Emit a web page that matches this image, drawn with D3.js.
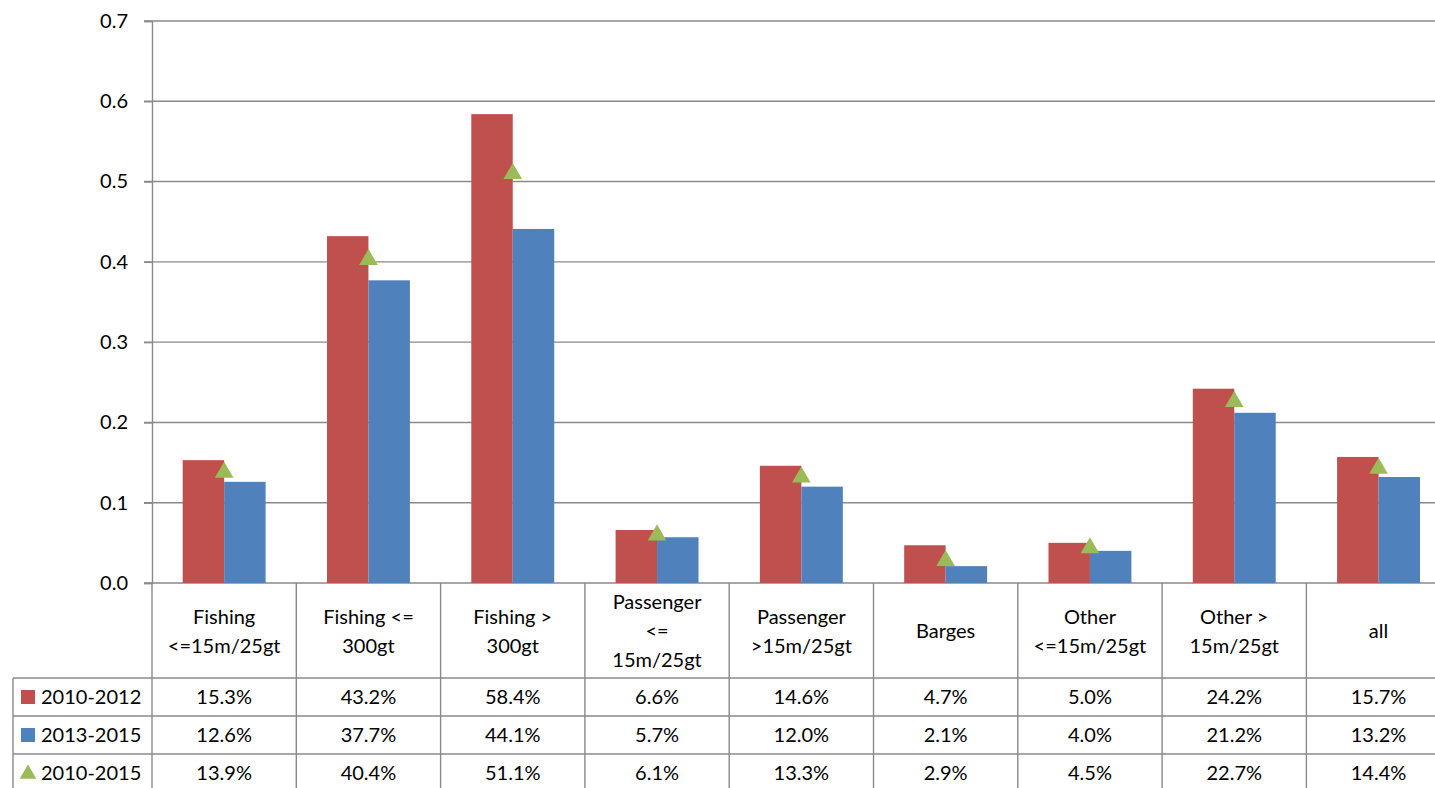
<!DOCTYPE html>
<html><head><meta charset="utf-8">
<script src="https://cdn.jsdelivr.net/npm/d3@7"></script>
<style>body{margin:0;background:#fff}svg{display:block}text{font-family:Lato,"Open Sans",sans-serif;fill:#000}</style>
</head><body>
<svg id="c" width="1435" height="788"></svg>
<script>
const categories = ["Fishing <=15m/25gt","Fishing <= 300gt","Fishing > 300gt","Passenger <= 15m/25gt","Passenger >15m/25gt","Barges","Other <=15m/25gt","Other > 15m/25gt","all"];
const categoryLines = [["Fishing","<=15m/25gt"],["Fishing <=","300gt"],["Fishing >","300gt"],["Passenger","<=","15m/25gt"],["Passenger",">15m/25gt"],["Barges"],["Other","<=15m/25gt"],["Other >","15m/25gt"],["all"]];
const seriesNames = ["2010-2012","2013-2015","2010-2015"];
const values2010_2012 = [0.153,0.432,0.584,0.066,0.146,0.047,0.050,0.242,0.157];
const values2013_2015 = [0.126,0.377,0.441,0.057,0.120,0.021,0.040,0.212,0.132];
const values2010_2015 = [0.139,0.404,0.511,0.061,0.133,0.029,0.045,0.227,0.144];
const yTicks = [0,0.1,0.2,0.3,0.4,0.5,0.6,0.7];
const colors = {"2010-2012":"#C0504D","2013-2015":"#4F81BD","2010-2015":"#9BBB59"};

(function(){
const svg = d3.select("#c");
const plotLeft = 152, catW = 144.3, plotTop = 21, plotBottom = 583;
const x = d3.scaleBand().domain(categories).range([plotLeft, plotLeft + catW*categories.length]).padding(0);
const xs = d3.scaleBand().domain(seriesNames.slice(0,2)).range([0, x.bandwidth()]).paddingInner(0).paddingOuter(0.74);
const y = d3.scaleLinear().domain([0,0.7]).range([plotBottom, plotTop]);
const grid = "#8a8a8a";

svg.append("g").selectAll("line").data(yTicks).join("line")
  .attr("x1", 144).attr("x2", 1435).attr("y1", d=>y(d)).attr("y2", d=>y(d))
  .attr("stroke", grid).attr("stroke-width", 1.4);

const yAxis = d3.axisLeft(y).tickValues(yTicks).tickFormat(d3.format(".1f")).tickSize(8).tickPadding(16);
const ga = svg.append("g").attr("transform", `translate(${plotLeft},0)`).call(yAxis);
ga.select(".domain").attr("stroke", grid).attr("stroke-width", 1.4);
ga.selectAll(".tick line").attr("stroke", grid).attr("stroke-width", 1.4);
ga.selectAll(".tick text").style("font-size","20px").attr("fill","#000").style("font-family","Lato");

const barData = [];
categories.forEach((c,i)=>{
  barData.push({c, s:"2010-2012", v:values2010_2012[i]});
  barData.push({c, s:"2013-2015", v:values2013_2015[i]});
});
svg.append("g").selectAll("rect").data(barData).join("rect")
  .attr("x", d=>x(d.c)+xs(d.s)).attr("width", xs.bandwidth())
  .attr("y", d=>y(d.v)).attr("height", d=>y(0)-y(d.v))
  .attr("fill", d=>colors[d.s]);

const tri = d3.symbol().type(d3.symbolTriangle).size(150);
svg.append("g").selectAll("path").data(categories).join("path")
  .attr("d", tri)
  .attr("transform", (c,i)=>`translate(${x(c)+x.bandwidth()/2},${y(values2010_2015[i])+1})`)
  .attr("fill", colors["2010-2015"]);

const rowTop = 678, rowH = 38, legendLeft = 13, right = 1435;
const t = svg.append("g");
const bounds = categories.map(c=>x(c)).concat([x.range()[1]]);
t.selectAll("line.v").data(bounds).join("line").attr("class","v")
  .attr("x1",d=>d).attr("x2",d=>d).attr("y1",plotBottom).attr("y2",800)
  .attr("stroke",grid).attr("stroke-width",1.4);
t.append("line").attr("x1",legendLeft).attr("x2",legendLeft).attr("y1",rowTop).attr("y2",800).attr("stroke",grid).attr("stroke-width",1.4);
t.selectAll("line.h").data([0,1,2,3]).join("line").attr("class","h")
  .attr("x1",legendLeft).attr("x2",right).attr("y1",d=>rowTop+d*rowH).attr("y2",d=>rowTop+d*rowH)
  .attr("stroke",grid).attr("stroke-width",1.4);

categories.forEach((c,i)=>{
  const lines = categoryLines[i];
  const cx = x(c)+x.bandwidth()/2, cy = 631, lh = 29;
  const txt = t.append("text").attr("text-anchor","middle").style("font-size","20px");
  lines.forEach((l,j)=>{
    txt.append("tspan").attr("x",cx).attr("y", cy + (j-(lines.length-1)/2)*lh).attr("dy","0.35em").text(l);
  });
});

const rows = [values2010_2012, values2013_2015, values2010_2015];
const fmt = d3.format(".1%");
rows.forEach((vals,r)=>{
  const cy = rowTop + r*rowH + rowH/2;
  categories.forEach((c,i)=>{
    t.append("text").attr("x", x(c)+x.bandwidth()/2).attr("y", cy).attr("dy","0.35em")
      .attr("text-anchor","middle").style("font-size","20px").text(fmt(vals[i]));
  });
  const s = seriesNames[r];
  if (r < 2) {
    t.append("rect").attr("x",21).attr("y",cy-7).attr("width",14).attr("height",14).attr("fill",colors[s]);
  } else {
    t.append("path").attr("d", d3.symbol().type(d3.symbolTriangle).size(120)).attr("transform",`translate(28,${cy+1})`).attr("fill",colors[s]);
  }
  t.append("text").attr("x",41).attr("y",cy).attr("dy","0.35em").style("font-size","20px").text(s);
});
})();
</script>
</body></html>
